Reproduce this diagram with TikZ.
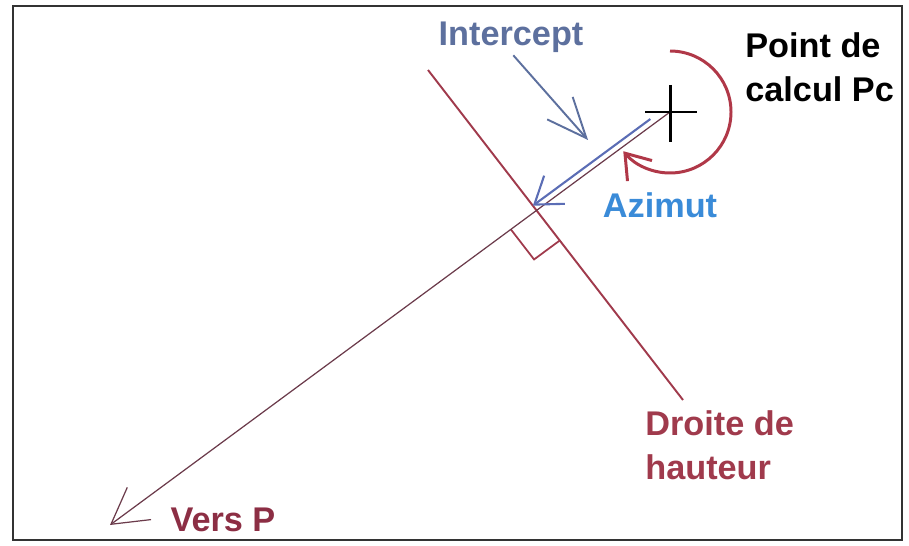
\documentclass[tikz,border=0pt]{standalone}
\usepackage{fontspec}
\setmainfont{Liberation Sans}
\usetikzlibrary{calc, arrows.meta}
\definecolor{framegray}{HTML}{333333}
\definecolor{droitered}{HTML}{A03A4C}
\definecolor{arcred}{HTML}{B03848}
\definecolor{versred}{HTML}{8C2E44}
\definecolor{azline}{HTML}{6B3B4B}
\definecolor{icblue}{HTML}{5B6DB5}
\definecolor{icgray}{HTML}{5D709E}
\definecolor{azblue}{HTML}{3A8BD8}
\begin{document}
\begin{tikzpicture}[
  x=0.02cm, y=0.02cm,
  lbl/.style={font=\bfseries\fontsize{19.5}{25}\selectfont, inner sep=0pt, align=left},
  bigbarb/.style={-{Straight Barb[length=0.7cm, width=0.8cm]}},
  midbarb/.style={-{Straight Barb[length=0.5cm, width=0.7cm]}}
]
\useasboundingbox (0,0) rectangle (909,545);
\draw[framegray, line width=1.1pt] (13,5) rectangle (902,539);

\coordinate (Pc) at (670,433);
\coordinate (towardP) at (110,20);
\coordinate (dTop) at (428,475);
\coordinate (dBot) at (683,145);
\coordinate (I) at (intersection of Pc--towardP and dTop--dBot);

\coordinate (sqA) at ($(I)!0.64cm!(towardP)$);
\coordinate (sqC) at ($(I)!0.76cm!(dBot)$);
\coordinate (sqB) at ($(sqA)+(sqC)-(I)$);

\coordinate (icStart) at ($(Pc)!0.4cm!(I)$);
\coordinate (icA) at ($(icStart)!0.12cm!-90:(I)$);
\coordinate (icRef) at ($(I)!0.12cm!90:(Pc)$);
\coordinate (icB) at (intersection of icA--icRef and dTop--dBot);

\draw[droitered, line width=1.1pt] (dTop) -- (dBot);
\draw[droitered, line width=1pt] (sqA) -- (sqB) -- (sqC);
\draw[azline, line width=0.7pt, bigbarb] (Pc) -- (towardP);
\draw[icblue, line width=1.2pt, midbarb] (icA) -- (icB);

\draw[black, line width=1.7pt] ($(Pc)+(-25,0)$) -- ($(Pc)+(27,0)$);
\draw[black, line width=1.7pt] ($(Pc)+(0,27)$) -- ($(Pc)+(0,-30)$);
\draw[arcred, line width=1.7pt, -{Straight Barb[length=0.46cm, width=0.64cm]}]
  ([shift={(90:61)}]Pc) arc[start angle=90, end angle=-140, radius=61];

\node[lbl, text=icgray] (intercept) at (511,508) {Intercept};
\coordinate (ipTip) at (588,405);
\draw[icgray, line width=1.1pt, shorten <=2pt, -{Straight Barb[length=0.8cm, width=0.68cm]}]
  (intercept.south) -- (ipTip);

\node[lbl, text=azblue] (azimut) at (660,340) {Azimut};
\node[lbl, anchor=west] (pcLabel) at (745,478) {Point de\\calcul Pc};
\node[lbl, anchor=west, text=droitered] (droiteLabel) at (645,100) {Droite de\\hauteur};
\node[lbl, text=versred] (versP) at (223,25) {Vers P};
\end{tikzpicture}
\end{document}
